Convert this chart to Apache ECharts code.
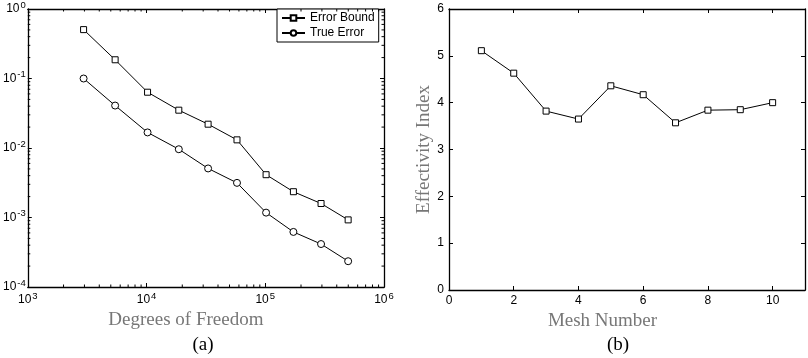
<!DOCTYPE html>
<html>
<head>
<meta charset="utf-8">
<script src="https://cdn.jsdelivr.net/npm/echarts@6/dist/echarts.min.js"></script>
<style>html,body{margin:0;padding:0;background:#fff;}#chart{width:808px;height:358px;}</style>
</head>
<body>
<div id="chart"></div>
<script>
// ---- data ----
const degreesOfFreedom = [2950, 5440, 10200, 18700, 33000, 57800, 101600, 172600, 295000, 499000];
const errorBound = [0.505, 0.186, 0.0635, 0.035, 0.022, 0.0131, 0.00413, 0.00235, 0.00159, 0.000924];
const trueError = [0.100, 0.0408, 0.01675, 0.0096, 0.00508, 0.00315, 0.001175, 0.00062, 0.000415, 0.000235];
const meshNumber = [1, 2, 3, 4, 5, 6, 7, 8, 9, 10];
const effectivityIndex = [5.11, 4.63, 3.82, 3.65, 4.36, 4.17, 3.57, 3.84, 3.85, 4.00];
const seriesNames = ['Error Bound', 'True Error'];
const xDecades = [3, 4, 5];        // minor ticks between 10^3 and 10^6
const yDecades = [-4, -3, -2, -1]; // minor ticks between 10^-4 and 10^0
const minorMultipliers = [2, 3, 4, 5, 6, 7, 8, 9];

const tickFont = 'Liberation Sans, Arial, sans-serif';
const serif = 'Liberation Serif, Times New Roman, serif';

const X_MIN = 1e3, X_MAX = 1e6, Y_MIN = 1e-4, Y_MAX = 1;

// minor tick items: [x, y, kind] kind 0 = x-axis tick, 1 = y-axis tick
const minorTicks = [];
xDecades.forEach(k => minorMultipliers.forEach(m => minorTicks.push([m * Math.pow(10, k), 1e-2, 0])));
yDecades.forEach(k => minorMultipliers.forEach(m => minorTicks.push([1e4, m * Math.pow(10, k), 1])));

function powLabel(v) {
  const e = Math.round(Math.log10(v));
  return '{b|10}{s|' + e + '}';
}
const powRich = {
  b: { fontSize: 12, fontFamily: tickFont, color: '#000' },
  s: { fontSize: 9.5, fontFamily: tickFont, color: '#000', padding: [0, 0, 8, 1] }
};

const lineStyle = { color: '#000', width: 1 };
const axisLineStyle = { color: '#000', width: 1.3 };

function frameAxis(base) {
  return Object.assign({
    axisLine: { show: true, onZero: false, lineStyle: axisLineStyle },
    axisTick: { show: true, inside: true, length: 4, lineStyle: { color: '#000' } },
    splitLine: { show: false },
  }, base);
}

const MINOR_LEN = 2.5;
function renderMinor(params, api) {
  const kind = api.value(2);
  const st = { stroke: '#000', lineWidth: 1 };
  if (kind === 0) {
    const v = api.value(0);
    const b = api.coord([v, Y_MIN]);
    const t = api.coord([v, Y_MAX]);
    return { type: 'group', children: [
      { type: 'line', shape: { x1: b[0], y1: b[1], x2: b[0], y2: b[1] - MINOR_LEN }, style: st },
      { type: 'line', shape: { x1: t[0], y1: t[1], x2: t[0], y2: t[1] + MINOR_LEN }, style: st }
    ] };
  } else {
    const v = api.value(1);
    const l = api.coord([X_MIN, v]);
    const r = api.coord([X_MAX, v]);
    return { type: 'group', children: [
      { type: 'line', shape: { x1: l[0], y1: l[1], x2: l[0] + MINOR_LEN, y2: l[1] }, style: st },
      { type: 'line', shape: { x1: r[0], y1: r[1], x2: r[0] - MINOR_LEN, y2: r[1] }, style: st }
    ] };
  }
}

const nameStyle = { fontFamily: serif, fontSize: 19, color: '#777' };

const option = {
  animation: false,
  backgroundColor: '#fff',
  title: [
    { text: '(a)', left: 198, top: 331, textAlign: 'center', textStyle: { fontFamily: serif, fontSize: 19, fontWeight: 'normal', color: '#000' } },
    { text: '(b)', left: 613, top: 331, textAlign: 'center', textStyle: { fontFamily: serif, fontSize: 19, fontWeight: 'normal', color: '#000' } }
  ],
  legend: {
    data: seriesNames,
    orient: 'vertical',
    left: 277, top: 9,
    padding: [2, 4, 2, 4],
    itemGap: 1,
    itemWidth: 23, itemHeight: 7,
    borderColor: '#000', borderWidth: 1,
    backgroundColor: '#fff',
    textStyle: { fontFamily: tickFont, fontSize: 12, color: '#000', lineHeight: 14 }
  },
  grid: [
    { left: 27, top: 4, width: 357, height: 283 },
    { left: 449, top: 9, width: 356, height: 281 }
  ],
  xAxis: [
    frameAxis({ type: 'log', logBase: 10, min: X_MIN, max: X_MAX, gridIndex: 0, position: 'bottom',
      axisLabel: { formatter: powLabel, rich: powRich, margin: 4 },
      name: 'Degrees of Freedom', nameLocation: 'middle', nameGap: 21,
      nameTextStyle: Object.assign({ padding: [0, 40, 0, 0] }, nameStyle) }),
    frameAxis({ type: 'log', logBase: 10, min: X_MIN, max: X_MAX, gridIndex: 0, position: 'top',
      axisLabel: { show: false } }),
    frameAxis({ type: 'value', min: 0, max: 11, interval: 2, gridIndex: 1, position: 'bottom',
      axisLabel: { fontFamily: tickFont, fontSize: 12, color: '#000', margin: 5, showMaxLabel: false },
      name: 'Mesh Number', nameLocation: 'middle', nameGap: 22,
      nameTextStyle: Object.assign({ padding: [0, 49, 0, 0] }, nameStyle) }),
    frameAxis({ type: 'value', min: 0, max: 11, interval: 2, gridIndex: 1, position: 'top',
      axisLabel: { show: false } })
  ],
  yAxis: [
    frameAxis({ type: 'log', logBase: 10, min: Y_MIN, max: Y_MAX, gridIndex: 0, position: 'left',
      axisLabel: { formatter: powLabel, rich: powRich, margin: 2 } }),
    frameAxis({ type: 'log', logBase: 10, min: Y_MIN, max: Y_MAX, gridIndex: 0, position: 'right',
      axisLabel: { show: false } }),
    frameAxis({ type: 'value', min: 0, max: 6, interval: 1, gridIndex: 1, position: 'left',
      axisLabel: { fontFamily: tickFont, fontSize: 12, color: '#000', margin: 5 },
      name: 'Effectivity Index', nameLocation: 'middle', nameGap: 14, nameRotate: 90,
      nameTextStyle: nameStyle }),
    frameAxis({ type: 'value', min: 0, max: 6, interval: 1, gridIndex: 1, position: 'right',
      axisLabel: { show: false } })
  ],
  series: [
    { name: seriesNames[0], type: 'line', xAxisIndex: 0, yAxisIndex: 0,
      data: degreesOfFreedom.map((d, i) => [d, errorBound[i]]),
      symbol: 'rect', symbolSize: 6, showAllSymbol: true,
      lineStyle: lineStyle, itemStyle: { color: '#fff', borderColor: '#000', borderWidth: 1 } },
    { name: seriesNames[1], type: 'line', xAxisIndex: 0, yAxisIndex: 0,
      data: degreesOfFreedom.map((d, i) => [d, trueError[i]]),
      symbol: 'circle', symbolSize: 7, showAllSymbol: true,
      lineStyle: lineStyle, itemStyle: { color: '#fff', borderColor: '#000', borderWidth: 1 } },
    { name: 'Effectivity', type: 'line', xAxisIndex: 2, yAxisIndex: 2,
      data: meshNumber.map((m, i) => [m, effectivityIndex[i]]),
      symbol: 'rect', symbolSize: 6, showAllSymbol: true,
      lineStyle: lineStyle, itemStyle: { color: '#fff', borderColor: '#000', borderWidth: 1 } },
    { name: 'minorTicks', type: 'custom', xAxisIndex: 0, yAxisIndex: 0,
      data: minorTicks, renderItem: renderMinor, clip: false, silent: true, z: 5 }
  ]
};
const chart = echarts.init(document.getElementById('chart'), null, { renderer: 'canvas' });
chart.setOption(option);
</script>
</body>
</html>
